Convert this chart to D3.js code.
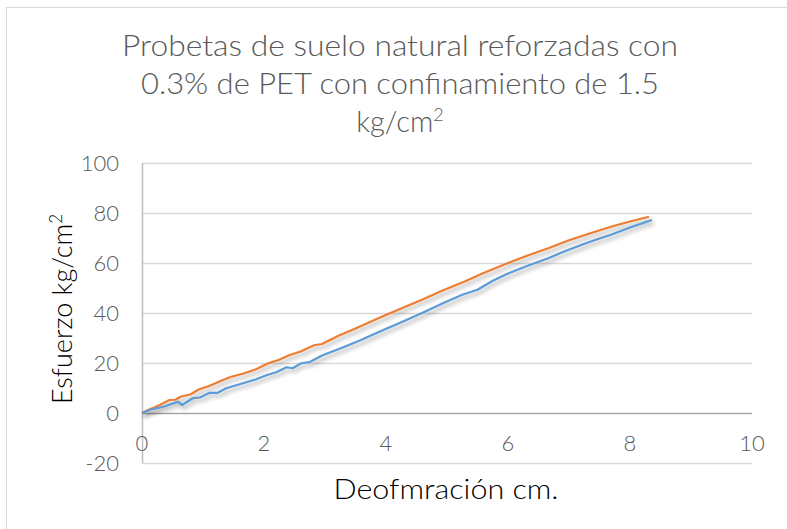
<!DOCTYPE html>
<html>
<head>
<meta charset="utf-8">
<script src="https://cdn.jsdelivr.net/npm/d3@7"></script>
<style>
  body { margin: 0; background: #fff; }
  svg { display: block; font-family: "Lato", "DejaVu Sans", sans-serif; }
  .fino { font-weight: 300; }
</style>
</head>
<body>
<svg id="chart"></svg>
<script>
// datos
var titleLines = ["Probetas de suelo natural reforzadas con", "0.3% de PET con confinamiento de 1.5"];
var xTicks = [0, 2, 4, 6, 8, 10];
var yTicks = [-20, 0, 20, 40, 60, 80, 100];

// serie naranja
var xOrange = [0, 0.1, 0.2, 0.3, 0.45, 0.55, 0.63, 0.8, 0.93, 1.1, 1.3, 1.45, 1.65, 1.86, 2.07, 2.25, 2.41, 2.6, 2.82, 2.95,
  3.23, 3.5, 3.92, 4.2, 4.6, 4.9, 5.29, 5.6, 5.98, 6.3, 6.66, 7.0, 7.35, 7.7, 8.0, 8.31];
var yOrange = [0, 1.2, 2.2, 3.3, 5.2, 5.3, 6.5, 7.5, 9.4, 10.8, 12.9, 14.4, 15.7, 17.4, 19.9, 21.3, 23.1, 24.6, 27.1, 27.6,
  31.0, 33.8, 38.4, 41.3, 45.4, 48.7, 52.6, 56.0, 59.8, 62.8, 65.9, 69.1, 71.9, 74.6, 76.6, 78.5];

// serie azul
var xBlue = [0, 0.15, 0.35, 0.48, 0.59, 0.66, 0.83, 0.95, 1.11, 1.24, 1.38, 1.6, 1.86, 2.05, 2.2, 2.37, 2.47, 2.61, 2.75, 2.96,
  3.25, 3.58, 3.9, 4.26, 4.6, 4.95, 5.25, 5.5, 5.75, 5.98, 6.3, 6.66, 6.9, 7.21, 7.45, 7.69, 8.0, 8.36];
var yBlue = [0, 1.4, 2.5, 3.6, 4.5, 3.2, 5.9, 6.2, 8.1, 8.1, 9.9, 11.5, 13.4, 15.2, 16.3, 18.3, 17.9, 19.9, 20.4, 23.1,
  25.8, 29.1, 32.6, 36.4, 40.1, 44.1, 47.3, 49.3, 52.9, 55.6, 58.7, 61.9, 64.4, 67.3, 69.4, 71.3, 74.2, 77.2];

var width = 787, height = 529;
var svg = d3.select("#chart").attr("width", width).attr("height", height);

// sombra de las lineas
var defs = svg.append("defs");
var f = defs.append("filter").attr("id", "sombra")
  .attr("x", "-10%").attr("y", "-10%").attr("width", "120%").attr("height", "130%");
f.append("feDropShadow").attr("dx", 2).attr("dy", 3).attr("stdDeviation", 2)
  .attr("flood-color", "#000").attr("flood-opacity", 0.35);

// marco
svg.append("rect").attr("x", 6.5).attr("y", 7.5).attr("width", 800).attr("height", 600)
  .attr("fill", "none").attr("stroke", "#d9d9d9");

var xScale = d3.scaleLinear().domain([0, 10]).range([142, 752]);
var yScale = d3.scaleLinear().domain([-20, 100]).range([463, 163]);

// grilla horizontal
svg.append("g")
  .selectAll("line")
  .data(yTicks.filter(d => d != 0))
  .enter().append("line")
  .attr("x1", xScale(0)).attr("x2", xScale(10))
  .attr("y1", d => Math.round(yScale(d)) + 0.5).attr("y2", d => Math.round(yScale(d)) + 0.5)
  .attr("stroke", "#d9d9d9").attr("stroke-width", 1.5);

// eje vertical
svg.append("line")
  .attr("x1", xScale(0) + 0.5).attr("x2", xScale(0) + 0.5)
  .attr("y1", yScale(100)).attr("y2", yScale(-20))
  .attr("stroke", "#bfbfbf").attr("stroke-width", 1.5);

// eje horizontal en cero
svg.append("line")
  .attr("x1", xScale(0)).attr("x2", xScale(10))
  .attr("y1", Math.round(yScale(0)) + 0.5).attr("y2", Math.round(yScale(0)) + 0.5)
  .attr("stroke", "#a6a6a6").attr("stroke-width", 1.5);

// etiquetas y
svg.append("g").selectAll("text")
  .data(yTicks).enter().append("text")
  .attr("class", "fino")
  .attr("x", 119).attr("y", d => yScale(d))
  .attr("dy", "0.35em").attr("text-anchor", "end")
  .attr("fill", "#595959").attr("font-size", 22)
  .text(d => d);

// etiquetas x
svg.append("g").selectAll("text")
  .data(xTicks).enter().append("text")
  .attr("class", "fino")
  .attr("x", d => xScale(d)).attr("y", yScale(0) + 30)
  .attr("dy", "0.35em").attr("text-anchor", "middle")
  .attr("fill", "#595959").attr("font-size", 22)
  .text(d => d);

// lineas
var line = d3.line().x(d => xScale(d[0])).y(d => yScale(d[1]));
var series = [
  { pts: d3.zip(xOrange, yOrange), color: "#ed7d31" },
  { pts: d3.zip(xBlue, yBlue), color: "#5b9bd5" }
];
series.forEach(s => {
  svg.append("path")
    .datum(s.pts)
    .attr("d", line)
    .attr("fill", "none")
    .attr("stroke", s.color)
    .attr("stroke-width", 2.25)
    .attr("stroke-linejoin", "round")
    .attr("filter", "url(#sombra)");
});

// titulo
var titleWidths = [556, 518];
svg.append("g").selectAll("text").data(titleLines).enter().append("text")
  .attr("class", "fino").attr("text-anchor", "middle").attr("fill", "#595959").attr("font-size", 29)
  .attr("x", 400).attr("y", (d, i) => 56 + i * 38)
  .attr("textLength", (d, i) => titleWidths[i]).attr("lengthAdjust", "spacingAndGlyphs")
  .text(d => d);
var t3 = svg.append("text").attr("class", "fino").attr("text-anchor", "middle").attr("fill", "#595959").attr("font-size", 29)
  .attr("x", 400).attr("y", 132);
t3.append("tspan").text("kg/cm");
t3.append("tspan").attr("font-size", 18).attr("dy", -11).text("2");

// titulos de ejes
var yt = svg.append("text").attr("class", "fino").attr("transform", "translate(72," + 309 + ") rotate(-90)")
  .attr("text-anchor", "middle").attr("fill", "#000").attr("font-size", 27);
yt.append("tspan").text("Esfuerzo kg/cm");
yt.append("tspan").attr("font-size", 17).attr("dy", -10).text("2");

svg.append("text").attr("class", "fino").attr("x", 446).attr("y", 499).attr("text-anchor", "middle")
  .attr("fill", "#000").attr("font-size", 28)
  .attr("textLength", 225).attr("lengthAdjust", "spacingAndGlyphs")
  .text("Deofmración cm.");
</script>
</body>
</html>
